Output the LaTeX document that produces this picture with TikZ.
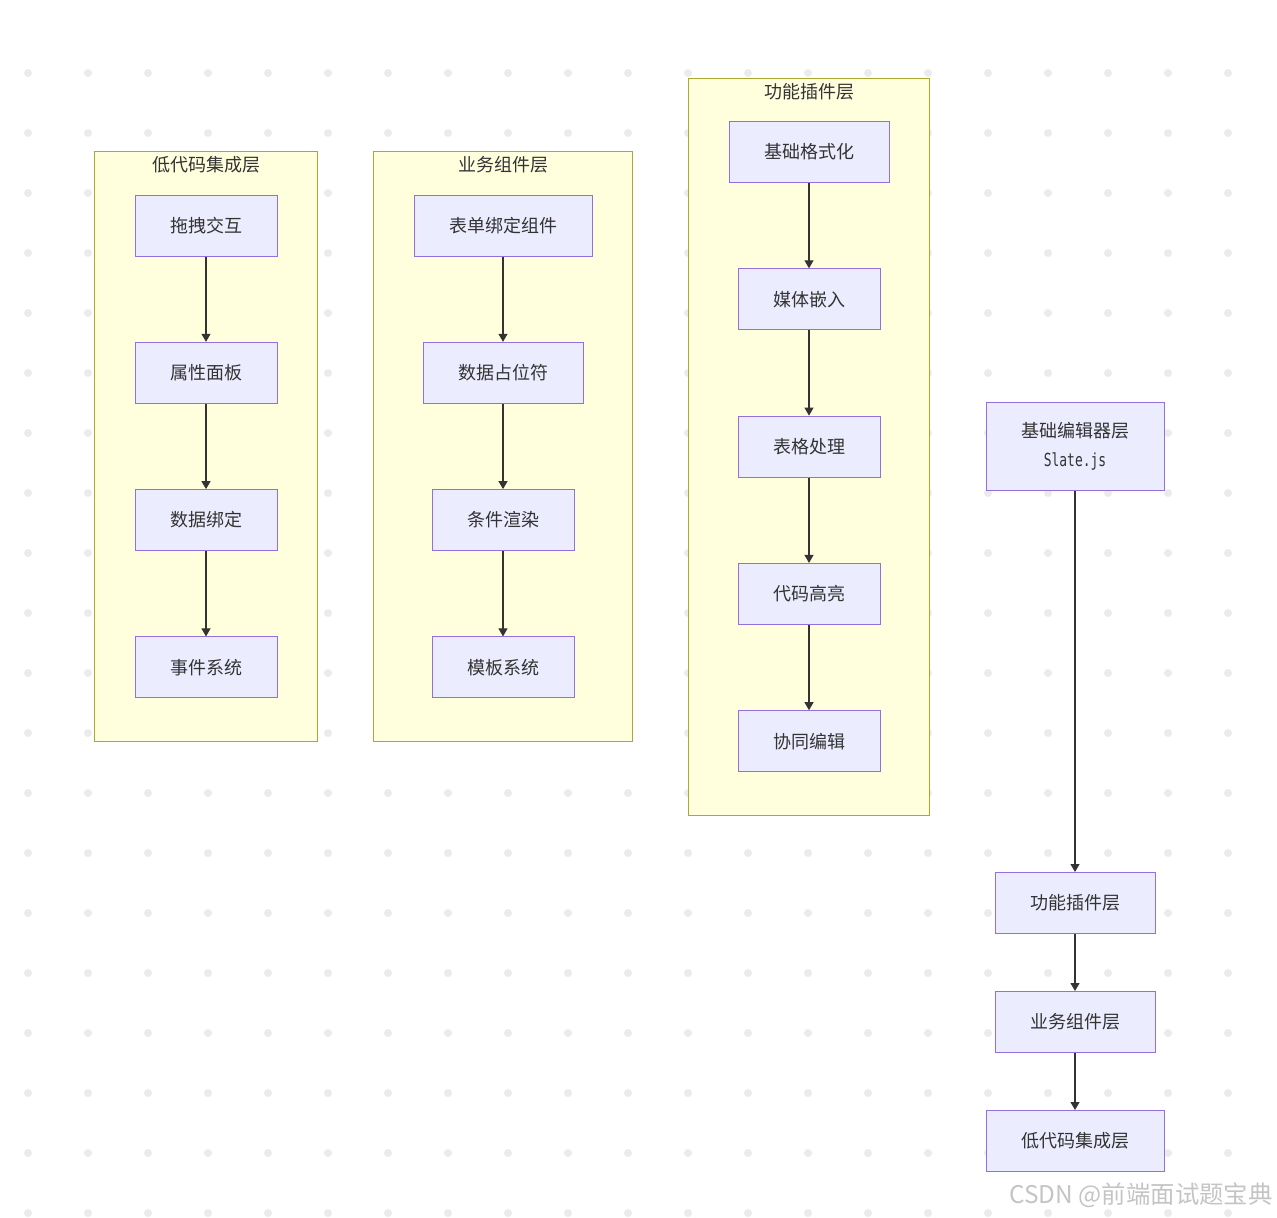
\documentclass[tikz,border=0pt]{standalone}
\usepackage{fontspec}
\setmainfont{Noto Sans CJK SC}
\newfontfamily\codefont[FakeStretch=0.72]{DejaVu Sans Mono}
\usepackage{xcolor}
\usepackage{tikz}
\usetikzlibrary{arrows.meta,positioning,fit,backgrounds}
\definecolor{itemfill}{HTML}{ECECFF}
\definecolor{itemline}{HTML}{9370DB}
\definecolor{groupfill}{HTML}{FFFFDE}
\definecolor{groupline}{HTML}{AAAA33}
\definecolor{textgray}{HTML}{333333}
\definecolor{dotgray}{HTML}{EBEBEB}
\definecolor{wmgray}{HTML}{C4C4C4}

\begin{document}
\begin{tikzpicture}[
  x=0.5pt, y=0.5pt,
  font=\fontsize{9pt}{11pt}\selectfont,
  node distance = 42.65pt,
  item/.style={draw=itemline, line width=0.5pt, fill=itemfill, text=textgray,
               inner xsep=17.5pt, inner ysep=2pt, minimum height=30.5pt},
  arrow/.style={-{Triangle[length=4pt,width=4.5pt]}, line width=0.55pt, draw=textgray},
  group/.style={draw=groupline, line width=0.5pt, fill=groupfill,
                inner xsep=20pt, inner ysep=21.5pt},
  grouptitle/.style={text=textgray, inner sep=0pt}
]
\useasboundingbox (0,0) rectangle (1277,-1217);

% ===== low-code layer =====
\node[item] (drag) at (206,-225.5) {拖拽交互};
\node[item, below=of drag] (props) {属性面板};
\node[item, below=of props] (bind) {数据绑定};
\node[item, below=of bind] (events) {事件系统};

\draw[arrow] (drag) -- (props);
\draw[arrow] (props) -- (bind);
\draw[arrow] (bind) -- (events);

% ===== business component layer =====
\node[item] (form) at (503,-225.5) {表单绑定组件};
\node[item, below=of form] (holder) {数据占位符};
\node[item, below=of holder] (cond) {条件渲染};
\node[item, below=of cond] (tmpl) {模板系统};

\draw[arrow] (form) -- (holder);
\draw[arrow] (holder) -- (cond);
\draw[arrow] (cond) -- (tmpl);

% ===== plugin layer =====
\node[item] (fmt) at (809,-152) {基础格式化};
\node[item, below=of fmt] (media) {媒体嵌入};
\node[item, below=of media] (table) {表格处理};
\node[item, below=of table] (code) {代码高亮};
\node[item, below=of code] (collab) {协同编辑};

\draw[arrow] (fmt) -- (media);
\draw[arrow] (media) -- (table);
\draw[arrow] (table) -- (code);
\draw[arrow] (code) -- (collab);

% ===== layer stack =====
\node[item, minimum height=44pt, align=center,
      font=\fontsize{9pt}{14.5pt}\selectfont] (slate) at (1075,-446.5)
  {基础编辑器层\\{\codefont Slate.js}};
\node[item, below=190.5pt of slate] (pluginstack) {功能插件层};
\node[item, below=28.5pt of pluginstack] (bizstack) {业务组件层};
\node[item, below=28.5pt of bizstack] (lowstack) {低代码集成层};

\draw[arrow] (slate) -- (pluginstack);
\draw[arrow] (pluginstack) -- (bizstack);
\draw[arrow] (bizstack) -- (lowstack);

% dotted canvas + group boxes (background)
\begin{pgfonlayer}{background}
\foreach \i in {0,...,20}
  \foreach \j in {0,...,19}
    \fill[dotgray] (28+60*\i,-73-60*\j) circle (2pt);
\node[group, fit=(drag)(events)] (lowcode) {};
\node[group, fit=(form)(tmpl)] (business) {};
\node[group, fit=(fmt)(collab)] (plugin) {};
\end{pgfonlayer}

% group titles
\node[grouptitle] (lowcodelabel) at ([yshift=-7pt]lowcode.north) {低代码集成层};
\node[grouptitle] (businesslabel) at ([yshift=-7pt]business.north) {业务组件层};
\node[grouptitle] (pluginlabel) at ([yshift=-7pt]plugin.north) {功能插件层};

% watermark
\node[anchor=east, text=wmgray, inner sep=0pt,
      font=\fontsize{12.2pt}{14pt}\selectfont] (wm) at (1273,-1195) {CSDN @前端面试题宝典};

\end{tikzpicture}
\end{document}
